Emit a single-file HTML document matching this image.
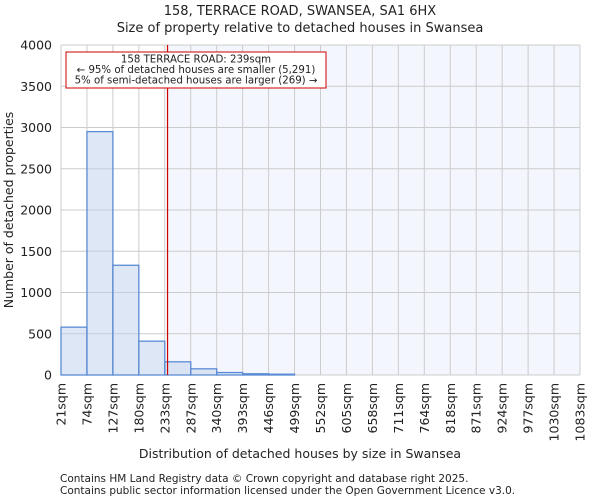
<!DOCTYPE html>
<html><head><meta charset="utf-8"><style>
body{margin:0;background:#fff;font-family:"DejaVu Sans","Liberation Sans",sans-serif;}
svg text{font-family:"DejaVu Sans","Liberation Sans",sans-serif;fill:#222;}
</style></head><body>
<svg id="c" width="600" height="500">
<text x="300" y="15" text-anchor="middle" font-size="13">158, TERRACE ROAD, SWANSEA, SA1 6HX</text>
<text x="300" y="32" text-anchor="middle" font-size="13">Size of property relative to detached houses in Swansea</text>
<g id="plot"></g>
<text x="300" y="458" text-anchor="middle" font-size="12.5">Distribution of detached houses by size in Swansea</text>
<text transform="translate(13,210) rotate(-90)" text-anchor="middle" font-size="12.5">Number of detached properties</text>
<text x="60" y="482" font-size="10.5" fill="#444">Contains HM Land Registry data © Crown copyright and database right 2025.</text>
<text x="60" y="494" font-size="10.5" fill="#444">Contains public sector information licensed under the Open Government Licence v3.0.</text>
</svg>
<script>
const binLabels=["21sqm","74sqm","127sqm","180sqm","233sqm","287sqm","340sqm","393sqm","446sqm","499sqm","552sqm","605sqm","658sqm","711sqm","764sqm","818sqm","871sqm","924sqm","977sqm","1030sqm","1083sqm"];
const counts=[580,2950,1330,410,160,75,30,15,10,0,0,0,0,0,0,0,0,0,0,0];
const yTicks=[0,500,1000,1500,2000,2500,3000,3500,4000];
const propertySize=239;
const binStart=21, binStep=53.1;
const L=61,R=580,T=45,B=375,yMax=4000;
const NS="http://www.w3.org/2000/svg";
const g=document.getElementById('plot');
const bw=(R-L)/counts.length;
const xs=v=>L+(v-binStart)/binStep*bw;
const ys=v=>B-v/yMax*(B-T);
function el(t,a){const e=document.createElementNS(NS,t);for(const k in a)e.setAttribute(k,a[k]);g.appendChild(e);return e;}
const bg=el('rect',{x:L,y:T,width:R-L,height:B-T,fill:'#fff'});


const px=xs(propertySize);
const sh=el('rect',{x:px,y:T,width:R-px,height:B-T,fill:'#f4f6fd'});


yTicks.forEach(v=>{
 const l=el('line',{x1:L,x2:R,y1:ys(v),y2:ys(v),stroke:'#ccc'});
 
 
 const t=el('text',{x:L-9,y:ys(v)+4.5,'text-anchor':'end','font-size':'12.5'});t.textContent=v;
 
 
});
binLabels.forEach((s,i)=>{
 const x=L+i*bw;
 const l=el('line',{x1:x,x2:x,y1:T,y2:B,stroke:'#ccc'});
 
 
 const t=el('text',{transform:`translate(${x+4.5},${B+8}) rotate(-90)`,'text-anchor':'end','font-size':'12.5'});t.textContent=s;
 
 
});
counts.forEach((c,i)=>{
 if(c<=0)return;
 const r=el('rect',{x:L+i*bw,y:ys(c),width:bw,height:B-ys(c),fill:'rgba(190,208,235,0.5)',stroke:'#5b8bd4','stroke-width':1.3});
 
 
});
const ml=el('line',{x1:px,x2:px,y1:T,y2:B,stroke:'#c00','stroke-width':1.2});


const ab=el('rect',{x:66,y:52,width:260,height:36,fill:'#fff',stroke:'#c00'});


["158 TERRACE ROAD: 239sqm","← 95% of detached houses are smaller (5,291)","5% of semi-detached houses are larger (269) →"].forEach((s,i)=>{
 const t=el('text',{x:196,y:62.5+i*10.5,'text-anchor':'middle','font-size':'10.2'});t.textContent=s;
 
 
});
</script>
</body></html>
